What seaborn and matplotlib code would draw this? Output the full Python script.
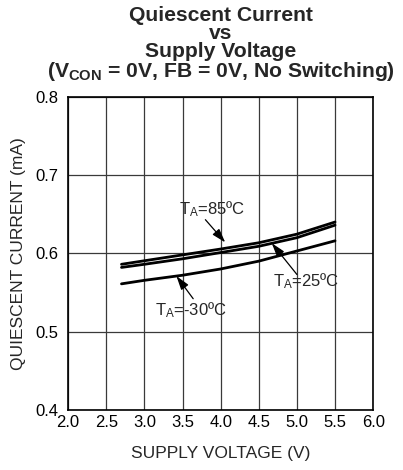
import numpy as np
import pandas as pd
import seaborn as sns
import matplotlib
matplotlib.use("Agg")
import matplotlib.pyplot as plt

# Data
voltage = [2.7, 3.0, 3.5, 4.0, 4.5, 5.0, 5.5]
i_85c = [0.586, 0.5905, 0.598, 0.6055, 0.6135, 0.6245, 0.640]
i_25c = [0.582, 0.586, 0.593, 0.601, 0.609, 0.620, 0.636]
i_m30c = [0.561, 0.5655, 0.572, 0.580, 0.590, 0.603, 0.616]
series_names = ["85", "25", "-30"]

x_ticks = [2.0, 2.5, 3.0, 3.5, 4.0, 4.5, 5.0, 5.5, 6.0]
y_ticks = [0.4, 0.5, 0.6, 0.7, 0.8]

df = pd.DataFrame({
    "V": voltage * 3,
    "I": i_85c + i_25c + i_m30c,
    "T": [n for n in series_names for _ in voltage],
})

sns.set_style("white")
plt.rcParams["font.family"] = ["Liberation Sans", "DejaVu Sans"]
plt.rcParams["mathtext.fontset"] = "custom"
plt.rcParams["mathtext.rm"] = "Liberation Sans"
plt.rcParams["mathtext.it"] = "Liberation Sans"
plt.rcParams["mathtext.bf"] = "Liberation Sans:bold"

fig = plt.figure(figsize=(4.03, 4.70), dpi=100)
ax = fig.add_axes([0.169, 0.128, 0.757, 0.666])

sns.lineplot(data=df, x="V", y="I", hue="T", palette=["black"] * 3,
             linewidth=2.0, legend=False, ax=ax)

ax.set_xlim(2.0, 6.0)
ax.set_ylim(0.4, 0.8)
ax.set_xticks(x_ticks)
ax.set_yticks(y_ticks)
ax.set_xticklabels([f"{t:.1f}" for t in x_ticks])
ax.set_yticklabels([f"{t:.1f}" for t in y_ticks])
ax.tick_params(axis="x", length=0, labelsize=12, pad=4, colors="black")
ax.tick_params(axis="y", length=0, labelsize=12, pad=7, colors="black")
ax.grid(True, color="#3a3a3a", linewidth=0.9)
for s in ax.spines.values():
    s.set_color("black")
    s.set_linewidth(1.2)

ax.set_xlabel("SUPPLY VOLTAGE (V)", fontsize=12.5, labelpad=11)
ax.set_ylabel("QUIESCENT CURRENT (mA)", fontsize=12.5, labelpad=7)

fig.text(0.548, 0.987,
         "Quiescent Current\nvs\nSupply Voltage\n"
         r"(V$_{\mathbf{CON}}$ = 0V, FB = 0V, No Switching)",
         ha="center", va="top", fontsize=15.2, fontweight="bold", linespacing=0.93)

arrow = dict(arrowstyle="-|>,head_length=0.7,head_width=0.22", color="black",
             lw=0.9, mutation_scale=12, shrinkA=0, shrinkB=0)
ax.annotate("", xy=(4.06, 0.614), xytext=(3.80, 0.643), arrowprops=arrow)
ax.annotate("", xy=(4.67, 0.613), xytext=(5.00, 0.573), arrowprops=arrow)
ax.annotate("", xy=(3.42, 0.571), xytext=(3.64, 0.542), arrowprops=arrow)

ax.text(3.89, 0.657, r"T$_\mathrm{A}$=85ºC", ha="center", va="center", fontsize=12)
ax.text(5.12, 0.564, r"T$_\mathrm{A}$=25ºC", ha="center", va="center", fontsize=12)
ax.text(3.61, 0.527, r"T$_\mathrm{A}$=-30ºC", ha="center", va="center", fontsize=12)

fig.savefig("out.png", dpi=100)
